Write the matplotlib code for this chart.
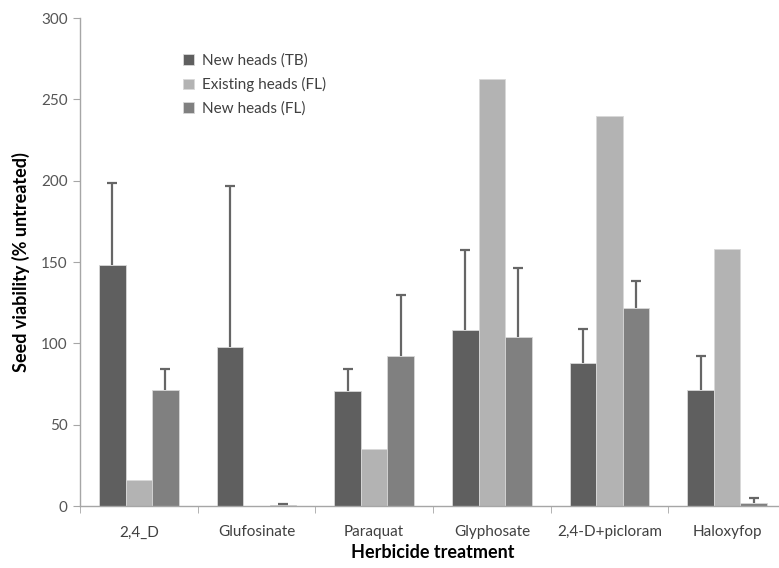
import numpy as np
import matplotlib
matplotlib.use("Agg")
import matplotlib.pyplot as plt

plt.rcParams['font.family'] = ['Lato', 'DejaVu Sans']

treatments = ['2,4_D', 'Glufosinate', 'Paraquat', 'Glyphosate', '2,4-D+picloram', 'Haloxyfop']
series = ['New heads (TB)', 'Existing heads (FL)', 'New heads (FL)']

new_tb = [148, 98, 71, 108, 88, 71.5]
new_tb_err = [50.5, 98.5, 13, 49.5, 21, 20.5]
existing_fl = [16, 0, 35, 262.5, 240, 158]
new_fl = [71.5, 0.5, 92.5, 104, 121.5, 2]
new_fl_err = [13, 1, 37, 42.5, 17, 2.7]

colors = ['#5f5f5f', '#b3b3b3', '#808080']

fig = plt.figure(figsize=(7.79, 5.68), dpi=100)
ax = fig.add_axes([80 / 779, 62 / 568, 706 / 779, 488 / 568])

x = np.arange(len(treatments))
w = 0.225
values = [new_tb, existing_fl, new_fl]
errors = [new_tb_err, None, new_fl_err]
for i, (vals, err, c, name) in enumerate(zip(values, errors, colors, series)):
    pos = x + (i - 1) * w
    ax.bar(pos, vals, width=w, color=c, edgecolor='#d8d8d8', linewidth=0.6, label=name, zorder=2)
    if err is not None:
        # plus-only error bars: hide the lower cap sitting on the bar top
        _, caps, _ = ax.errorbar(pos, vals, yerr=[np.zeros(len(err)), err], fmt='none',
                                 ecolor='#666666', elinewidth=1.6, capsize=3.8,
                                 capthick=1.6, zorder=3)
        caps[0].set_visible(False)
        caps[1].set_color('#4d4d4d')

ax.set_xlim(-0.5, len(treatments) - 0.5)
ax.set_ylim(0, 300)
ax.set_yticks(np.arange(0, 301, 50))
ax.set_xticks(x)
ax.set_xticklabels(treatments)
ax.set_xticks(np.arange(-0.5, len(treatments), 1), minor=True)
ax.tick_params(axis='x', which='major', length=0, pad=14, labelsize=11, labelcolor='#404040')
ax.tick_params(axis='x', which='minor', length=5, color='#a6a6a6')
ax.tick_params(axis='y', length=5, color='#a6a6a6', labelsize=11, labelcolor='#555555', pad=4)

for s in ['top', 'right']:
    ax.spines[s].set_visible(False)
for s in ['left', 'bottom']:
    ax.spines[s].set_color('#a6a6a6')
    ax.spines[s].set_linewidth(1)

ax.set_xlabel('Herbicide treatment', fontsize=13, fontweight='bold', labelpad=3)
ax.set_ylabel('Seed viability (% untreated)', fontsize=13, fontweight='bold', labelpad=8)

ax.legend(loc='upper left', bbox_to_anchor=(0.127, 0.955), frameon=False, fontsize=11,
          handlelength=0.7, handleheight=0.7, handletextpad=0.5, labelspacing=0.6,
          labelcolor='#404040')

fig.savefig('out.png', dpi=100)
